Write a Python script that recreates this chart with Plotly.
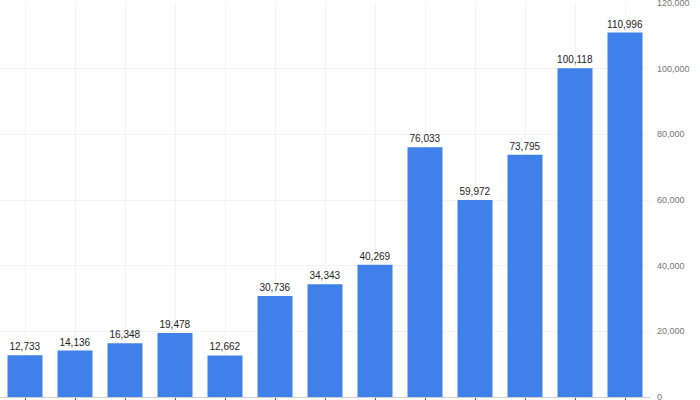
import plotly.graph_objects as go

# categories are not legible in the reference (cut off at the bottom)
categories = ["P1", "P2", "P3", "P4", "P5", "P6", "P7",
              "P8", "P9", "P10", "P11", "P12", "P13"]
values = [12733, 14136, 16348, 19478, 12662, 30736, 34343,
          40269, 76033, 59972, 73795, 100118, 110996]
y_ticks = [0, 20000, 40000, 60000, 80000, 100000, 120000]

bar_color = "#3F80EA"

fig = go.Figure()
fig.add_trace(go.Bar(
    x=categories,
    y=values,
    marker=dict(color=bar_color, line=dict(width=0)),
    width=0.7,
    text=[f"{v:,}" for v in values],
    textposition="outside",
    constraintext="none",
    textfont=dict(family="Liberation Sans, Arial", size=10, color="#222222"),
    cliponaxis=False,
    hoverinfo="skip",
))

fig.update_layout(
    width=700, height=400,
    margin=dict(l=0, r=50, t=3, b=3, autoexpand=False),
    paper_bgcolor="white",
    plot_bgcolor="white",
    showlegend=False,
    font=dict(family="Liberation Sans, Arial"),
)

fig.update_xaxes(
    showticklabels=False,
    showgrid=True, gridcolor="#f2f2f2", gridwidth=1,
    showline=True, linecolor="#cfcfcf", linewidth=1,
    ticks="outside", ticklen=5, tickcolor="#555555", tickwidth=1,
)

fig.update_yaxes(
    side="right",
    range=[0, 120000],
    tickvals=y_ticks,
    tickformat=",",
    tickfont=dict(size=9, color="#757575"),
    ticklabelstandoff=6,
    ticklabeloverflow="allow",
    showgrid=True, gridcolor="#f2f2f2", gridwidth=1,
    zeroline=False,
    showline=False,
)

# page body has a default 8px margin; drop it so the figure fills the window
fig.write_html("out.html", config={"displayModeBar": False},
               post_script="document.body.style.margin='0px';")
